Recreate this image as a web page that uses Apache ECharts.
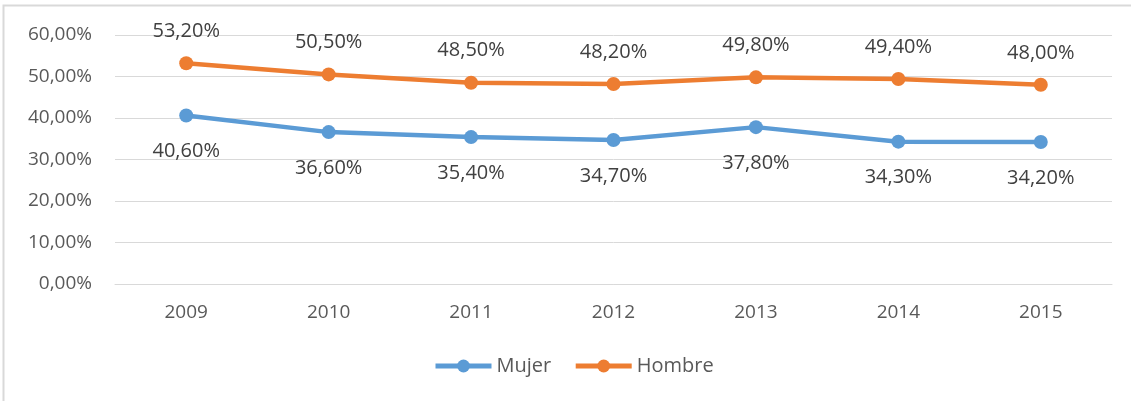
<!DOCTYPE html>
<html><head><meta charset="utf-8">
<script src="https://cdn.jsdelivr.net/npm/echarts@6/dist/echarts.min.js"></script>
<style>html,body{margin:0;padding:0;background:#fff}#c{width:1131px;height:401px}</style>
</head><body><div id="c"></div>
<script>
const years = ['2009','2010','2011','2012','2013','2014','2015'];
const mujer = [40.6, 36.6, 35.4, 34.7, 37.8, 34.3, 34.2];
const hombre = [53.2, 50.5, 48.5, 48.2, 49.8, 49.4, 48.0];
const fmt = v => v.toFixed(2).replace('.', ',') + '%';
const chart = echarts.init(document.getElementById('c'));
const font = '"Open Sans", sans-serif';
chart.setOption({
  animation: false,
  textStyle: {fontFamily: font},
  graphic: [{type: 'rect', shape: {x: 3.5, y: 5.5, width: 1140, height: 400}, style: {fill: 'none', stroke: '#d9d9d9', lineWidth: 2}, z: -1}],
  grid: {left: 115, right: 19, top: 35, bottom: 117, containLabel: false},
  legend: {
    bottom: 20, left: 428, itemWidth: 56, itemHeight: 16, itemGap: 22,
    textStyle: {fontSize: 20, color: '#595959', fontFamily: font},
    lineStyle: {width: 5},
    data: ['Mujer', 'Hombre']
  },
  xAxis: {
    type: 'category', data: years, boundaryGap: true,
    axisLine: {lineStyle: {color: '#d9d9d9', width: 1}},
    axisTick: {show: false},
    axisLabel: {fontSize: 19, color: '#595959', margin: 19, fontFamily: font}
  },
  yAxis: {
    type: 'value', min: 0, max: 60, interval: 10,
    axisLabel: {formatter: fmt, fontSize: 19, color: '#595959', margin: 23, fontFamily: font},
    splitLine: {lineStyle: {color: '#d9d9d9', width: 1}},
    axisLine: {show: false}, axisTick: {show: false}
  },
  series: [
    {name: 'Mujer', type: 'line', data: mujer, symbol: 'circle', symbolSize: 14,
     lineStyle: {width: 4.5, color: '#5b9bd5'}, itemStyle: {color: '#5b9bd5'},
     label: {show: true, position: 'bottom', distance: 19, formatter: p => fmt(p.value), fontSize: 20, color: '#404040', fontFamily: font}},
    {name: 'Hombre', type: 'line', data: hombre, symbol: 'circle', symbolSize: 14,
     lineStyle: {width: 4.5, color: '#ed7d31'}, itemStyle: {color: '#ed7d31'},
     label: {show: true, position: 'top', distance: 15, formatter: p => fmt(p.value), fontSize: 20, color: '#404040', fontFamily: font}}
  ]
});
</script></body></html>
